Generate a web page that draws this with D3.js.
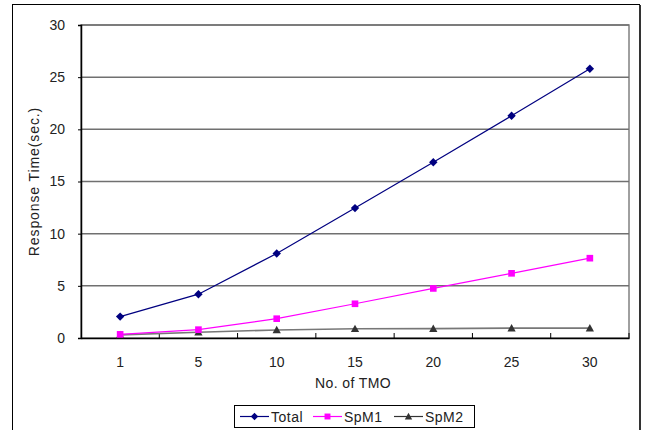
<!DOCTYPE html>
<html><head><meta charset="utf-8">
<script src="https://cdn.jsdelivr.net/npm/d3@7"></script>
<style>
body{margin:0;background:#fff;}
svg{display:block;font-family:"Liberation Sans",Arial,sans-serif;}
</style></head>
<body><svg id="c" width="652" height="430"></svg>
<script>
const categories = ["1","5","10","15","20","25","30"];
const total = [2.05, 4.2, 8.1, 12.45, 16.85, 21.3, 25.8];
const spm1 = [0.35, 0.8, 1.85, 3.28, 4.75, 6.2, 7.65];
const spm2 = [0.3, 0.55, 0.77, 0.88, 0.9, 0.95, 0.95];
const yTicks = [0,5,10,15,20,25,30];
const seriesNames = ["Total","SpM1","SpM2"];

const svg = d3.select("#c");
const L=81, R=629, T=25, B=338;
const x = d3.scaleBand().domain(categories).range([L,R]);
const y = d3.scaleLinear().domain([0,30]).range([B,T]);

// custom marker shapes
const diamond = {draw(ctx,size){const r=Math.sqrt(size)/2*1.05;ctx.moveTo(0,-r);ctx.lineTo(r,0);ctx.lineTo(0,r);ctx.lineTo(-r,0);ctx.closePath();}};
const tri = {draw(ctx,size){const w=Math.sqrt(size)/2*1.1;ctx.moveTo(0,-w*1.0);ctx.lineTo(w,w*0.8);ctx.lineTo(-w,w*0.8);ctx.closePath();}};

// outer frame
svg.append("rect").attr("x",12.5).attr("y",4.5).attr("width",627).attr("height",440)
  .attr("fill","none").attr("stroke","#000").attr("stroke-width",1);
svg.append("line").attr("x1",640).attr("x2",640).attr("y1",5).attr("y2",430).attr("stroke","#333").attr("stroke-width",2);

// plot area border
svg.append("rect").attr("x",L).attr("y",T).attr("width",R-L).attr("height",B-T)
  .attr("fill","#fff").attr("stroke","#808080").attr("stroke-width",1.5);

// gridlines
svg.append("g").selectAll("line").data(yTicks.filter(d=>d>0)).join("line")
  .attr("x1",L).attr("x2",R).attr("y1",d=>y(d)).attr("y2",d=>y(d))
  .attr("stroke","#707070").attr("stroke-width",1.5);

// y axis
const yAxis = svg.append("g").attr("transform",`translate(${L},0)`)
  .call(d3.axisLeft(y).tickValues(yTicks).tickSize(3).tickPadding(13));
yAxis.select(".domain").attr("stroke","#000").attr("stroke-width",1.5);
yAxis.selectAll("text").attr("font-size",14).attr("fill","#222");

// x axis
const xAxis = svg.append("g").attr("transform",`translate(0,${B})`)
  .call(d3.axisBottom(x).tickSize(0).tickPadding(19));
xAxis.select(".domain").attr("stroke","#000").attr("stroke-width",1.5);
xAxis.selectAll("text").attr("font-size",14).attr("fill","#222");
const bounds = categories.slice(1).map(c=>x(c));
svg.append("g").selectAll("line").data(bounds.concat([R])).join("line")
  .attr("x1",d=>d).attr("x2",d=>d).attr("y1",B).attr("y2",B-5)
  .attr("stroke","#000").attr("stroke-width",1);

// titles
svg.append("text").attr("x",353).attr("y",388).attr("text-anchor","middle")
  .attr("font-size",14).attr("letter-spacing",0.4).attr("fill","#222").text("No. of TMO");
svg.append("text").attr("transform",`translate(39,181.5) rotate(-90)`)
  .attr("text-anchor","middle").attr("font-size",14).attr("letter-spacing",0.9).attr("fill","#222").text("Response Time(sec.)");

const cx = c => x(c)+x.bandwidth()/2;
const series = [
  {name:seriesNames[0], vals:total, color:"#000080", lc:"#000080", sym:diamond, size:64},
  {name:seriesNames[1], vals:spm1, color:"#FF00FF", lc:"#FF00FF", sym:d3.symbolSquare, size:44},
  {name:seriesNames[2], vals:spm2, color:"#333333", lc:"#777777", sym:tri, size:56},
];
const line = d3.line().x((d,i)=>cx(categories[i])).y(d=>y(d));
series.slice().reverse().forEach(s=>{
  svg.append("path").datum(s.vals).attr("d",line).attr("fill","none")
    .attr("stroke",s.lc).attr("stroke-width",s.name==="SpM2"?1.6:1.2);
  svg.append("g").selectAll("path").data(s.vals).join("path")
    .attr("transform",(d,i)=>`translate(${cx(categories[i])},${y(d)})`)
    .attr("d",d3.symbol().type(s.sym).size(s.size)).attr("fill",s.color);
});

// legend
const lg = svg.append("g");
lg.append("rect").attr("x",234.5).attr("y",405.5).attr("width",240).attr("height",22)
  .attr("fill","#fff").attr("stroke","#000").attr("stroke-width",1);
const lx = [240, 313, 394];
series.forEach((s,i)=>{
  lg.append("line").attr("x1",lx[i]).attr("x2",lx[i]+29).attr("y1",416.5).attr("y2",416.5)
    .attr("stroke",s.name==="SpM2"?"#333":s.lc).attr("stroke-width",1.2);
  lg.append("path").attr("transform",`translate(${lx[i]+14.5},416.5)`)
    .attr("d",d3.symbol().type(s.sym).size(s.size*0.8)).attr("fill",s.color);
  lg.append("text").attr("x",lx[i]+31).attr("y",421.5).attr("font-size",14)
    .attr("letter-spacing",0.5).attr("fill","#222").text(s.name);
});
</script></body></html>
